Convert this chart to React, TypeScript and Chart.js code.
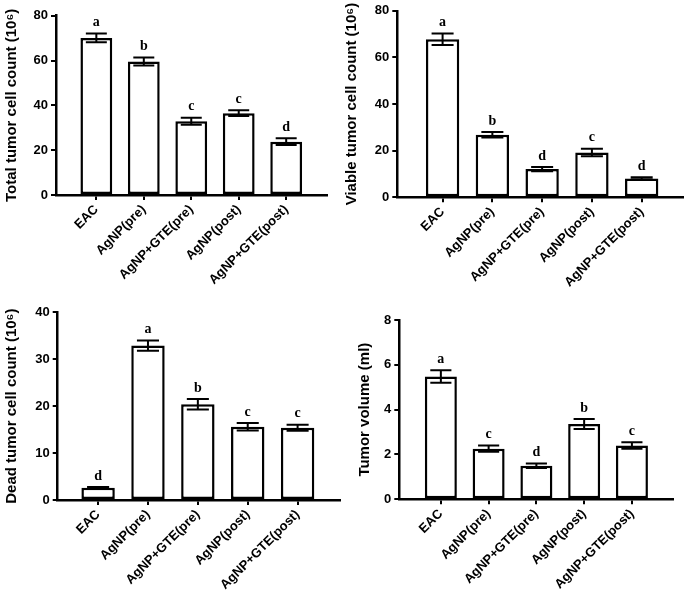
import React, { useEffect, useRef } from 'react';
import { Chart, registerables } from 'chart.js';
Chart.register(...registerables);

const categories = ['EAC', 'AgNP(pre)', 'AgNP+GTE(pre)', 'AgNP(post)', 'AgNP+GTE(post)'];

const totalValues = [70.1, 59.6, 32.9, 36.5, 23.8];
const totalErrors = [2.0, 1.8, 1.6, 1.3, 1.5];
const totalLetters = ['a', 'b', 'c', 'c', 'd'];

const viableValues = [67.8, 26.8, 12.1, 19.2, 8.1];
const viableErrors = [2.5, 1.2, 0.9, 1.6, 0.5];
const viableLetters = ['a', 'b', 'd', 'c', 'd'];

const deadValues = [2.6, 32.9, 20.4, 15.6, 15.4];
const deadErrors = [0.15, 1.1, 1.1, 0.8, 0.65];
const deadLetters = ['d', 'a', 'b', 'c', 'c'];

const volumeValues = [5.48, 2.26, 1.5, 3.36, 2.4];
const volumeErrors = [0.28, 0.14, 0.1, 0.22, 0.15];
const volumeLetters = ['a', 'c', 'd', 'b', 'c'];

const SANS = '"Liberation Sans", Arial, sans-serif';

type PanelProps = {
  left: number; top: number; width: number; height: number;
  values: number[]; errors: number[]; letters: string[];
  yMax: number; yStep: number; yTitle: string;
  padL: number; padT: number; padR: number; yWidth: number; xHeight: number;
  xMin: number; xMax: number;
};

function Panel(p: PanelProps) {
  const ref = useRef<HTMLCanvasElement>(null);
  useEffect(() => {
    const errLetterPlugin = {
      id: 'errLetters',
      afterDatasetsDraw(chart: any) {
        const ctx = chart.ctx;
        const meta = chart.getDatasetMeta(0);
        const ys = chart.scales.y;
        ctx.save();
        meta.data.forEach((bar: any, i: number) => {
          const x = bar.x;
          const cap = bar.width * 0.33;
          const yTop = ys.getPixelForValue(p.values[i] + p.errors[i]);
          const yBot = ys.getPixelForValue(p.values[i] - p.errors[i]);
          ctx.strokeStyle = '#000';
          ctx.lineWidth = 2;
          ctx.beginPath();
          ctx.moveTo(x, yTop); ctx.lineTo(x, yBot);
          ctx.moveTo(x - cap, yTop); ctx.lineTo(x + cap, yTop);
          ctx.moveTo(x - cap, yBot); ctx.lineTo(x + cap, yBot);
          ctx.stroke();
          ctx.fillStyle = '#000';
          ctx.font = 'bold 14px "Liberation Serif", "Times New Roman", serif';
          ctx.textAlign = 'center';
          ctx.textBaseline = 'bottom';
          ctx.fillText(p.letters[i], x, yTop - 4);
        });
        ctx.restore();
      },
    };
    const chart = new Chart(ref.current as HTMLCanvasElement, {
      type: 'bar',
      data: {
        datasets: [{
          data: p.values.map((v, i) => ({ x: i, y: v })) as any,
          backgroundColor: '#fff',
          borderColor: '#000',
          borderWidth: 2.5,
          borderSkipped: false,
          barPercentage: 0.67,
          categoryPercentage: 1,
        }],
      },
      options: {
        animation: false,
        responsive: false,
        layout: { padding: { left: p.padL, top: p.padT, right: p.padR, bottom: 0 } },
        plugins: { legend: { display: false }, tooltip: { enabled: false } },
        scales: {
          x: {
            type: 'linear',
            offset: false,
            min: p.xMin,
            max: p.xMax,
            afterBuildTicks: (s: any) => { s.ticks = categories.map((_, i) => ({ value: i })); },
            afterFit: (s: any) => { s.height = p.xHeight; },
            ticks: {
              autoSkip: false,
              minRotation: 45,
              maxRotation: 45,
              padding: 2,
              color: '#000',
              font: { family: SANS, size: 13, weight: 'bold' },
              callback: (v: any) => categories[Math.round(Number(v))],
            },
            grid: { offset: false, drawOnChartArea: false, drawTicks: true, tickLength: 5, color: '#000', lineWidth: 2 },
            border: { display: true, color: '#000', width: 2.5 },
          },
          y: {
            min: 0,
            max: p.yMax,
            afterFit: (s: any) => { s.width = p.yWidth; },
            ticks: {
              stepSize: p.yStep,
              padding: 3,
              color: '#000',
              font: { family: SANS, size: 13, weight: 'bold' },
            },
            title: {
              display: true,
              text: p.yTitle,
              color: '#000',
              font: { family: SANS, size: 15, weight: 'bold' },
              padding: { top: 3, bottom: 0 },
            },
            grid: { drawOnChartArea: false, drawTicks: true, tickLength: 5, color: '#000', lineWidth: 2 },
            border: { display: true, color: '#000', width: 2.5 },
          },
        },
      } as any,
      plugins: [errLetterPlugin],
    });
    return () => chart.destroy();
  }, []);
  return (
    <canvas
      ref={ref}
      width={p.width}
      height={p.height}
      style={{ position: 'absolute', left: p.left, top: p.top, width: p.width, height: p.height, display: 'block' }}
    />
  );
}

export default function App() {
  return (
    <div style={{ position: 'absolute', left: 0, top: 0, width: 685, height: 591, background: '#fff', overflow: 'hidden' }}>
      <Panel left={0} top={0} width={340} height={300}
        values={totalValues} errors={totalErrors} letters={totalLetters}
        yMax={80} yStep={20} yTitle="Total tumor cell count (10⁶)"
        padL={0} padT={15.7} padR={13} yWidth={56} xHeight={105} xMin={-0.85} xMax={4.86} />
      <Panel left={340} top={0} width={345} height={300}
        values={viableValues} errors={viableErrors} letters={viableLetters}
        yMax={80} yStep={20} yTitle="Viable tumor cell count (10⁶)"
        padL={0} padT={10} padR={2} yWidth={57.3} xHeight={102.7} xMin={-0.91} xMax={4.83} />
      <Panel left={0} top={300} width={345} height={291}
        values={deadValues} errors={deadErrors} letters={deadLetters}
        yMax={40} yStep={10} yTitle="Dead tumor cell count (10⁶)"
        padL={0} padT={12.3} padR={5} yWidth={57.7} xHeight={91} xMin={-0.81} xMax={4.85} />
      <Panel left={340} top={300} width={345} height={291}
        values={volumeValues} errors={volumeErrors} letters={volumeLetters}
        yMax={8} yStep={2} yTitle="Tumor volume (ml)"
        padL={13} padT={20} padR={12} yWidth={46.3} xHeight={91.7} xMin={-0.87} xMax={4.86} />
    </div>
  );
}
